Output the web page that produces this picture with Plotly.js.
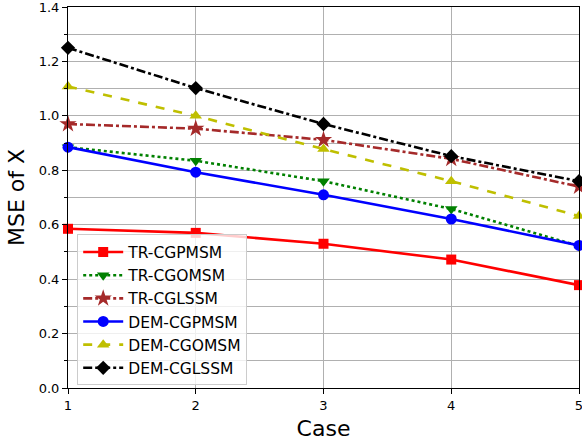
<!DOCTYPE html>
<html>
<head>
<meta charset="utf-8">
<script src="https://cdn.plot.ly/plotly-3.0.1.min.js"></script>
<style>html,body{margin:0;padding:0;background:#fff}#chart{width:582px;height:445px}</style>
</head>
<body>
<div id="chart"></div>
<script>
const cases = [1, 2, 3, 4, 5];
const trCGPMSM  = [0.585, 0.570, 0.530, 0.472, 0.378];
const trCGOMSM  = [0.885, 0.835, 0.760, 0.658, 0.522];
const trCGLSSM  = [0.970, 0.953, 0.912, 0.842, 0.740];
const demCGPMSM = [0.885, 0.793, 0.710, 0.621, 0.524];
const demCGOMSM = [1.108, 1.000, 0.878, 0.760, 0.632];
const demCGLSSM = [1.250, 1.102, 0.970, 0.852, 0.760];
const seriesNames = ['TR-CGPMSM','TR-CGOMSM','TR-CGLSSM','DEM-CGPMSM','DEM-CGOMSM','DEM-CGLSSM'];
const yTickVals = [0, 0.2, 0.4, 0.6, 0.8, 1.0, 1.2, 1.4];
const yTickText = ['0.0','0.2','0.4','0.6','0.8','1.0','1.2','1.4'];

const styles = [
  {color:'#ff0000', dash:'solid',   symbol:'square',        size:10},
  {color:'#008000', dash:'dot',     symbol:'triangle-down', size:11},
  {color:'#a52a2a', dash:'dashdot', symbol:'star',          size:13},
  {color:'#0000ff', dash:'solid',   symbol:'circle',        size:11},
  {color:'#bfbf00', dash:'dash',    symbol:'triangle-up',   size:11},
  {color:'#000000', dash:'dashdot', symbol:'diamond',       size:11}
];
const values = [trCGPMSM, trCGOMSM, trCGLSSM, demCGPMSM, demCGOMSM, demCGLSSM];

const traces = values.map((v, i) => ({
  x: cases, y: v, name: seriesNames[i], type: 'scatter', mode: 'lines+markers',
  line: {color: styles[i].color, dash: styles[i].dash, width: 2.6},
  marker: {color: styles[i].color, symbol: styles[i].symbol, size: styles[i].size, line:{width:0}},
  cliponaxis: false
}));

const font = 'DejaVu Sans, sans-serif';
const layout = {
  width: 582, height: 445,
  margin: {l: 68, r: 3, t: 7, b: 56.5},
  paper_bgcolor: '#fff', plot_bgcolor: '#fff',
  font: {family: font, color: '#000', size: 13},
  showlegend: true,
  legend: {
    x: 0.018, y: 0.403, xanchor: 'left', yanchor: 'top',
    bgcolor: 'rgba(255,255,255,0.8)', bordercolor: '#cccccc', borderwidth: 1,
    font: {family: font, size: 15.5, color: '#000'},
    itemwidth: 40
  },
  xaxis: {
    range: [1, 5], tickvals: cases, ticktext: cases.map(String),
    ticks: 'outside', ticklen: 5, tickcolor: '#000', tickwidth: 1,
    ticklabeloverflow: 'allow',
    showline: true, linecolor: '#000', linewidth: 1, mirror: true,
    showgrid: true, gridcolor: '#b0b0b0', gridwidth: 1, zeroline: false,
    tickfont: {family: font, size: 13, color: '#000'},
    title: {text: 'Case', font: {family: font, size: 22, color: '#000'}, standoff: 9}
  },
  yaxis: {
    range: [0, 1.4], tickvals: yTickVals, ticktext: yTickText,
    ticks: 'outside', ticklen: 5, tickcolor: '#000', tickwidth: 1,
    ticklabeloverflow: 'allow',
    showline: true, linecolor: '#000', linewidth: 1, mirror: true,
    showgrid: true, gridcolor: '#b0b0b0', gridwidth: 1, zeroline: false,
    minor: {dtick: 0.1, tick0: 0, ticks: 'outside', ticklen: 3, tickcolor: '#000', showgrid: true, gridcolor: '#b0b0b0', gridwidth: 1},
    tickfont: {family: font, size: 13, color: '#000'},
    title: {text: 'MSE of X', font: {family: font, size: 22, color: '#000'}, standoff: 8}
  }
};

Plotly.newPlot('chart', traces, layout, {displayModeBar: false, staticPlot: true});
</script>
</body>
</html>
